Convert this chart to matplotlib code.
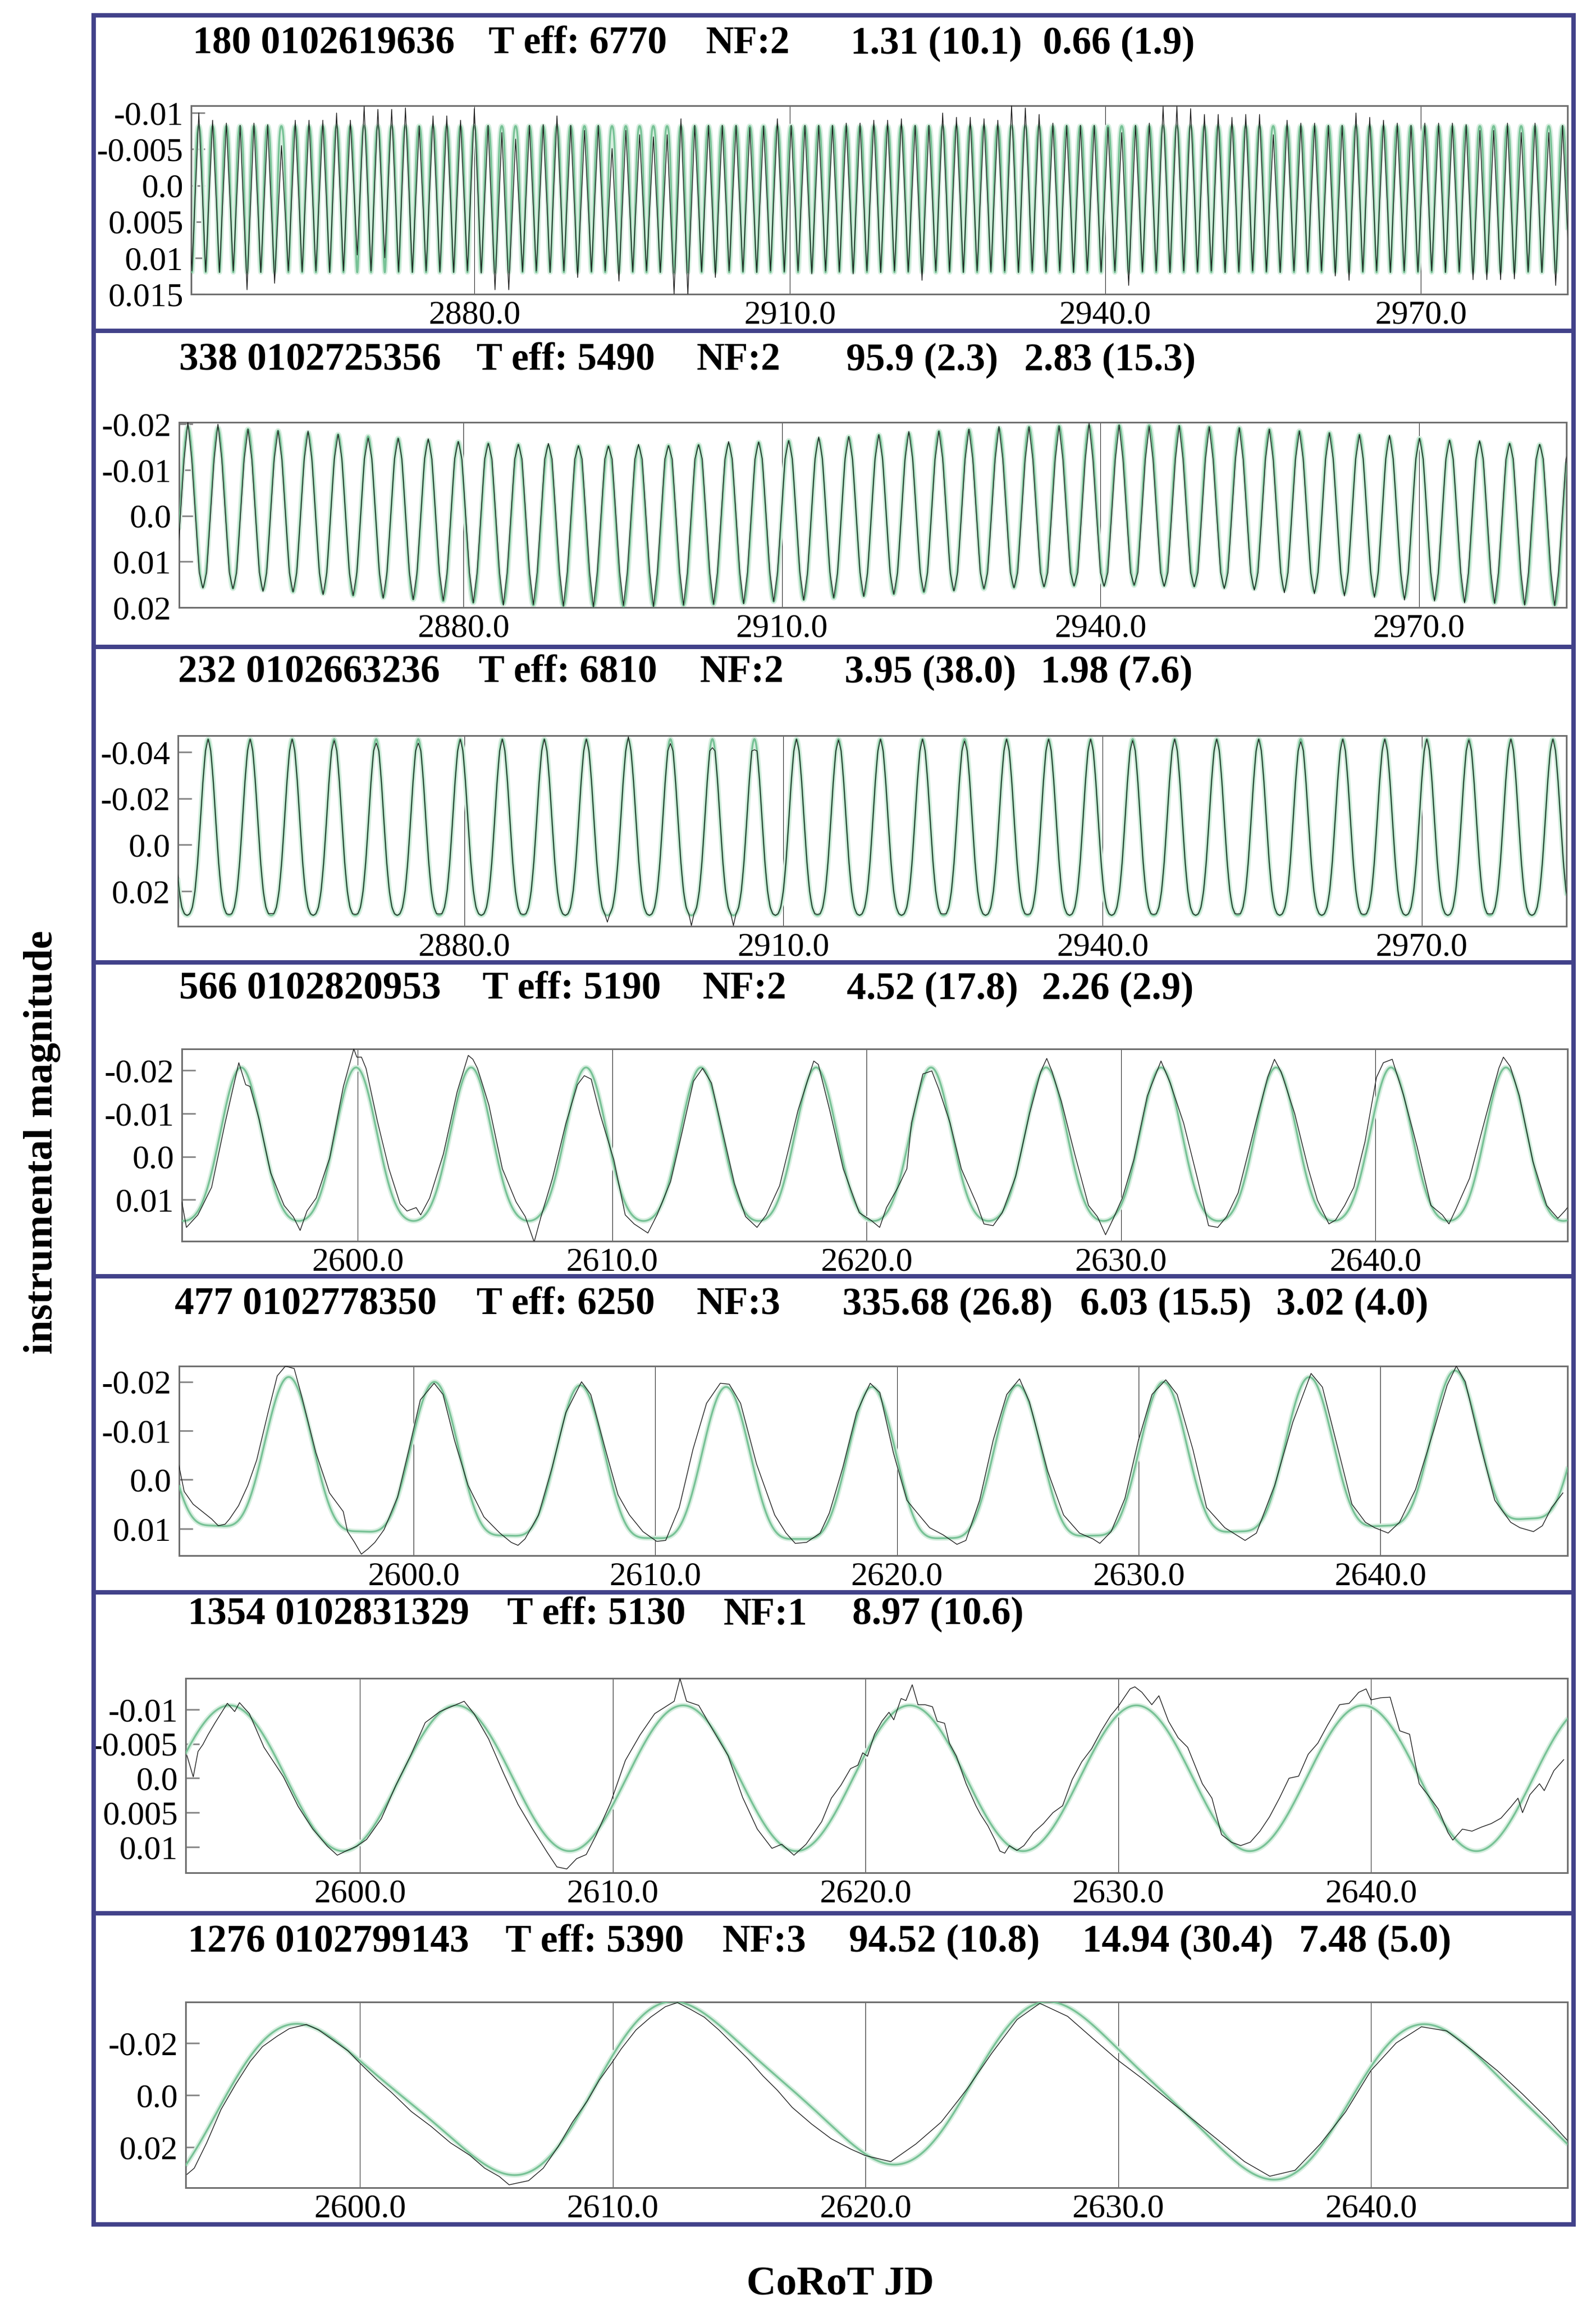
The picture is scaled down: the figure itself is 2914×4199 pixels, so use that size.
import numpy as np
import matplotlib.pyplot as plt

plt.rcParams['font.family'] = ['Liberation Serif', 'DejaVu Serif']

W, H = 2914, 4199

# ---------------- data ----------------
# panel headers
head_1 = ["180 0102619636", "T eff: 6770", "NF:2", "1.31 (10.1)", "0.66 (1.9)"]
head_2 = ["338 0102725356", "T eff: 5490", "NF:2", "95.9 (2.3)", "2.83 (15.3)"]
head_3 = ["232 0102663236", "T eff: 6810", "NF:2", "3.95 (38.0)", "1.98 (7.6)"]
head_4 = ["566 0102820953", "T eff: 5190", "NF:2", "4.52 (17.8)", "2.26 (2.9)"]
head_5 = ["477 0102778350", "T eff: 6250", "NF:3", "335.68 (26.8)", "6.03 (15.5)", "3.02 (4.0)"]
head_6 = ["1354 0102831329", "T eff: 5130", "NF:1", "8.97 (10.6)"]
head_7 = ["1276 0102799143", "T eff: 5390", "NF:3", "94.52 (10.8)", "14.94 (30.4)", "7.48 (5.0)"]

# multi-sine fit: period (d), semi-amplitude (mmag), epoch of max light, zero point (mmag)
per_1, amp_1, ep_1, zp_1 = [1.31, 0.655], [10.1, 1.9], [2880.0, 2880.33], 0.0
per_2, amp_2, ep_2, zp_2 = [95.9, 2.83], [2.3, 17.5], [2941.95, 2879.5], 0.0
per_3, amp_3, ep_3, zp_3 = [3.95, 1.975], [38.0, 7.6], [2879.63, 2879.63], 0.0
per_4, amp_4, ep_4, zp_4 = [4.52, 2.26], [17.8, 2.9], [2599.93, 2599.93], 0.0
per_5, amp_5, ep_5, zp_5 = [335.68, 6.03, 3.015], [26.8, 15.5, 4.0], [2448.16, 2612.93, 2612.93], -26.2
per_6, amp_6, ep_6, zp_6 = [8.97], [10.6], [2621.75], 0.0
per_7, amp_7, ep_7, zp_7 = [94.52, 14.94, 7.47], [10.8, 30.4, 5.0], [2619.7, 2613.0, 2611.13], 5.5

# observed light curves, panels 1-3: magnitude (mmag) at each maximum / minimum,
# counted from cycle n0 of the main period, plus the mean shape between them
n0_1 = -21
max_1 = [-8.3,
         -10.0, -9.0, -8.6, -8.3, -8.6, -8.4, -5.5, -9.0, -9.0, -9.0, -10.0, -9.0, -10.9,
         -10.5, -10.5, -10.7, -8.2, -9.6, -9.6, -9.0, -10.6,
         -8.3, -7.3, -6.4, -8.3, -8.4, -9.6, -8.3, -7.6, -8.3, -5.1, -7.6, -7.0, -6.7,
         -7.0, -9.2, -8.3, -8.3, -8.3, -8.3, -8.0, -8.2, -9.2, -8.3,
         -8.3, -8.3, -8.3, -8.6, -8.6, -9.0, -9.0, -9.2, -8.3, -8.3, -10.0, -9.4, -9.4,
         -9.2, -9.0, -11.0, -10.7, -9.8, -8.6, -8.3, -8.3, -8.3, -8.0, -7.3, -8.3, -8.6,
         -10.9, -10.9, -10.6, -9.8, -9.8, -9.4, -9.8, -9.8, -7.0, -9.0, -8.6, -8.6, -8.3,
         -8.3, -10.0, -9.4, -9.0, -8.6, -8.3, -8.6, -8.6, -8.6, -8.4, -7.6, -7.6, -8.6,
         -7.3, -8.6, -7.3, -8.3]
min_1 = [11.8, 11.9, 12.0, 11.8, 14.4, 12.0, 13.5, 11.8, 11.9, 11.8, 12.0, 11.8, 9.6,
         11.8, 10.0, 11.9, 12.0, 11.8, 11.9, 12.0, 11.8, 12.1, 14.4, 14.4, 11.9, 11.8,
         12.0, 11.8, 12.7, 11.9, 11.8, 13.2, 11.9, 11.8, 12.0, 15.0, 15.1, 11.9, 12.7,
         11.8, 11.9, 12.0, 11.8, 11.9, 11.8, 12.2, 11.8, 11.9, 12.2, 11.8, 12.0, 11.8,
         11.9, 13.1, 11.8, 11.9, 12.0, 11.8, 11.9, 11.8, 12.0, 11.8, 11.9, 11.8, 12.0,
         11.8, 11.9, 11.8, 13.8, 11.9, 11.8, 12.0, 11.8, 11.9, 11.8, 12.0, 11.9, 11.8,
         11.9, 12.0, 11.8, 11.9, 11.8, 12.5, 13.1, 11.9, 11.8, 12.0, 11.8, 11.9, 11.8,
         12.0, 11.9, 13.0, 13.0, 13.0, 12.9, 11.9, 12.0, 13.8, 11.9]
shape_1 = []

n0_2 = -10
max_2 = [-19.7, -20.5, -20.0, -18.9, -18.6, -18.5, -17.8, -17.0, -16.9, -16.8, -16.2, -15.8,
         -15.6, -15.8, -15.3, -15.2, -15.6, -15.3, -15.5, -16.2, -16.1, -16.4, -17.2, -17.3,
         -17.7, -18.4, -18.5, -18.9, -19.5, -19.4, -19.6, -20.2, -19.8, -19.5, -19.7, -19.4,
         -19.2, -18.9, -18.5, -18.1, -17.7, -17.6, -16.9, -16.5, -16.4, -15.8, -15.6, -15.4]
min_2 = [15.4, 15.8, 15.9, 16.5, 16.6, 17.2, 17.4, 18.0, 18.3, 18.5, 19.0, 19.5,
         19.4, 19.7, 19.9, 19.6, 19.8, 19.5, 19.3, 19.2, 18.7, 18.4, 17.9, 17.6,
         17.1, 16.6, 16.4, 15.9, 15.7, 15.5, 15.3, 15.4, 15.1, 15.4, 15.5, 15.9,
         16.2, 16.8, 17.0, 17.5, 17.8, 18.4, 18.6, 19.0, 19.1, 19.5, 19.6, 19.7]
shape_2 = [-12.4, 0.0, 12.4, 12.4, 0.0, -12.4]

n0_3 = -7
max_3 = [-45.6, -45.6, -45.6, -45.6, -45.0, -43.9, -43.9, -45.5, -45.6, -45.6, -45.6, -46.6,
         -43.7, -41.9, -41.0, -45.6, -45.2, -45.6, -45.6, -44.8, -45.6, -45.6, -45.6, -45.0,
         -45.6, -45.6, -45.6, -44.5, -45.6, -45.6, -45.6, -45.2, -45.6, -45.6]
min_3 = [30.4, 30.0, 29.6, 30.4, 30.0, 30.4, 29.8, 30.4, 30.0, 30.4, 33.3, 30.4, 34.8, 34.8,
         30.4, 30.0, 30.4, 30.4, 29.8, 30.4, 30.0, 30.4, 30.4, 30.0, 30.4, 29.8, 30.4, 30.4,
         30.0, 30.4, 30.4, 29.8, 30.4, 30.4]
shape_3 = [-40.5, -26.9, -9.2, 7.6, 19.9, 26.9, 29.7, 29.7, 26.9, 19.9, 7.6, -9.2, -26.9, -40.5]

# observed light curves, panels 4-7: CoRoT JD and magnitude (mmag)
t_4 = [2593.08, 2593.26, 2593.71, 2594.25, 2594.78, 2595.32, 2595.59, 2595.76, 2596.12, 2596.57,
       2597.1, 2597.46, 2597.73, 2598.0, 2598.36, 2598.89, 2599.43, 2599.84, 2599.96, 2600.14,
       2600.32, 2600.77, 2601.22, 2601.66, 2601.93, 2602.29, 2602.47, 2602.82, 2603.36, 2603.9,
       2604.34, 2604.52, 2604.7, 2605.15, 2605.68, 2606.22, 2606.58, 2606.93, 2607.2, 2607.65,
       2608.18, 2608.63, 2608.9, 2609.17, 2609.52, 2610.06, 2610.51, 2610.86, 2611.4, 2611.76,
       2612.29, 2612.74, 2613.19, 2613.55, 2613.9, 2614.26, 2614.8, 2615.24, 2615.69, 2616.05,
       2616.58, 2617.3, 2617.92, 2618.1, 2618.55, 2619.08, 2619.71, 2620.16, 2620.51, 2620.78,
       2621.23, 2621.58, 2621.76, 2622.21, 2622.56, 2622.83, 2623.28, 2623.72, 2624.35, 2624.61,
       2624.97, 2625.33, 2625.86, 2626.4, 2626.84, 2627.08, 2627.29, 2627.65, 2628.18, 2628.72,
       2629.07, 2629.39, 2629.7, 2630.05, 2630.5, 2631.03, 2631.57, 2631.93, 2632.46, 2633.0,
       2633.44, 2633.8, 2634.15, 2634.6, 2635.31, 2635.76, 2636.03, 2636.29, 2636.83, 2637.36,
       2637.72, 2638.17, 2638.43, 2638.79, 2639.15, 2639.59, 2640.04, 2640.31, 2640.66, 2641.11,
       2641.64, 2642.18, 2642.63, 2642.89, 2643.16, 2643.7, 2644.32, 2644.85, 2645.03, 2645.3,
       2645.66, 2646.19, 2646.73, 2647.17, 2647.44, 2647.62]
m_4 = [10.5, 16.4, 13.5, 7.1, -7.8, -21.8, -16.7, -16.3, -8.6, 3.7,
       11.3, 13.9, 17.1, 12.6, 9.6, 0.3, -16.3, -25.0, -23.1, -23.1,
       -20.5, -8.2, 2.8, 10.9, 12.6, 11.8, 13.5, 9.6, -0.6, -15.0,
       -23.5, -22.6, -20.5, -12.0, 2.8, 10.5, 13.9, 19.8, 13.9, 5.0,
       -7.8, -16.7, -18.8, -18.0, -9.9, 0.7, 13.5, 15.6, 17.7, 13.5,
       5.8, -5.6, -17.5, -20.5, -17.1, -7.8, 6.2, 13.9, 16.4, 13.5,
       6.7, -10.7, -22.2, -21.4, -10.7, 2.8, 13.0, 14.7, 16.4, 11.8,
       7.1, 2.8, -7.8, -19.2, -19.9, -15.8, -7.8, 2.8, 11.3, 15.6,
       16.0, 13.0, 4.5, -9.9, -19.7, -22.8, -19.7, -12.9, -0.6, 11.3,
       13.9, 18.1, 14.3, 9.6, 0.7, -14.1, -22.2, -17.1, -7.8, 5.0,
       16.0, 16.4, 13.9, 8.4, -8.2, -18.4, -22.6, -19.7, -9.9, 2.8,
       10.1, 15.6, 14.7, 11.3, 7.1, -3.5, -18.4, -21.8, -22.6, -14.1,
       -2.3, 11.3, 13.5, 15.6, 12.2, 5.0, -9.0, -20.5, -23.1, -20.9,
       -14.1, 1.1, 11.3, 14.3, 12.6, 11.3]

t_5 = [2590.28, 2590.51, 2590.88, 2591.26, 2591.64, 2591.92, 2592.2, 2592.39, 2592.76, 2593.14,
       2593.51, 2593.98, 2594.36, 2594.7, 2595.06, 2595.39, 2595.96, 2596.52, 2597.09, 2597.27,
       2597.56, 2597.84, 2598.12, 2598.4, 2598.78, 2599.34, 2599.81, 2600.28, 2600.85, 2601.22,
       2601.69, 2602.26, 2602.91, 2603.57, 2604.04, 2604.32, 2604.61, 2605.17, 2605.73, 2606.3,
       2606.95, 2607.33, 2607.89, 2608.46, 2608.93, 2609.49, 2610.06, 2610.43, 2610.99, 2611.56,
       2612.12, 2612.69, 2613.06, 2613.53, 2614.19, 2614.94, 2615.41, 2615.79, 2616.26, 2616.82,
       2617.2, 2617.76, 2618.33, 2618.89, 2619.29, 2619.85, 2620.41, 2620.79, 2621.35, 2621.92,
       2622.48, 2622.85, 2623.42, 2623.98, 2624.54, 2625.07, 2625.48, 2626.23, 2626.89, 2627.55,
       2628.11, 2628.39, 2628.86, 2629.43, 2629.99, 2630.55, 2631.12, 2631.59, 2632.24, 2632.81,
       2633.56, 2634.4, 2634.87, 2635.62, 2636.38, 2637.13, 2637.6, 2638.25, 2638.82, 2639.38,
       2639.76, 2640.32, 2640.79, 2641.45, 2642.2, 2642.76, 2643.14, 2643.51, 2644.08, 2644.73,
       2645.39, 2645.77, 2646.33, 2646.7, 2647.08, 2647.55]
m_5 = [-3.2, 2.4, 5.0, 6.5, 8.0, 9.4, 9.1, 8.0, 5.3, 1.2,
       -4.0, -13.7, -21.2, -23.2, -22.7, -16.7, -5.5, 2.7, 6.5, 10.6,
       12.8, 15.2, 14.1, 12.8, 10.2, 3.5, -6.2, -16.3, -19.7, -17.4,
       -8.1, 1.2, 7.6, 10.9, 12.8, 13.4, 12.1, 7.2, -2.5, -13.7,
       -20.0, -17.4, -7.0, 3.1, 7.2, 10.6, 12.6, 12.4, 5.7, -6.2,
       -15.6, -19.7, -19.5, -15.6, -3.2, 7.2, 10.9, 13.0, 12.8, 10.9,
       6.8, -2.5, -13.7, -19.7, -17.8, -5.5, 4.2, 6.5, 9.8, 11.3,
       13.2, 12.4, 4.2, -8.1, -17.4, -20.6, -15.9, -1.8, 7.2, 10.9,
       12.1, 13.0, 10.6, 3.8, -8.1, -17.4, -20.4, -17.4, -6.2, 5.7,
       9.8, 12.4, 10.9, 1.2, -11.8, -21.7, -18.9, -6.2, 5.0, 8.7,
       9.8, 10.9, 8.7, 2.0, -10.0, -19.3, -23.2, -20.0, -8.1, 4.2,
       8.7, 9.8, 10.6, 9.4, 5.7, 2.7]

t_6 = [2593.15, 2593.4, 2593.59, 2593.78, 2593.98, 2594.27, 2594.75, 2595.04, 2595.23, 2595.62,
       2596.2, 2596.97, 2597.55, 2598.13, 2598.71, 2599.1, 2599.49, 2599.87, 2600.26, 2600.84,
       2601.42, 2602.0, 2602.58, 2603.16, 2603.54, 2604.12, 2604.51, 2605.09, 2605.67, 2606.25,
       2606.83, 2607.41, 2607.79, 2608.18, 2608.57, 2608.95, 2609.34, 2609.92, 2610.5, 2611.08,
       2611.66, 2612.43, 2612.66, 2612.92, 2613.4, 2613.98, 2614.56, 2615.14, 2615.72, 2616.3,
       2616.69, 2617.17, 2617.65, 2618.27, 2618.65, 2619.03, 2619.41, 2619.7, 2619.89, 2620.08,
       2620.36, 2620.65, 2620.93, 2621.12, 2621.41, 2621.6, 2621.85, 2622.08, 2622.36, 2622.65,
       2622.84, 2623.13, 2623.32, 2623.6, 2623.98, 2624.37, 2624.56, 2624.84, 2625.13, 2625.32,
       2625.51, 2625.7, 2625.99, 2626.27, 2626.65, 2627.04, 2627.42, 2627.8, 2628.18, 2628.56,
       2628.95, 2629.33, 2629.7, 2629.99, 2630.47, 2630.66, 2630.94, 2631.33, 2631.61, 2631.99,
       2632.37, 2632.75, 2633.33, 2633.71, 2634.09, 2634.47, 2634.85, 2635.23, 2635.61, 2635.99,
       2636.38, 2636.76, 2637.14, 2637.52, 2637.9, 2638.28, 2638.76, 2639.14, 2639.52, 2639.81,
       2640.0, 2640.38, 2640.76, 2641.14, 2641.53, 2641.91, 2642.29, 2642.67, 2643.05, 2643.24,
       2643.62, 2644.0, 2644.38, 2644.76, 2645.15, 2645.53, 2645.82, 2646.0, 2646.29, 2646.67,
       2646.86, 2647.24, 2647.63]
m_6 = [-3.3, -0.2, -3.9, -4.9, -6.3, -8.1, -10.9, -9.7, -11.0, -9.4,
       -4.5, -0.2, 4.1, 7.4, 9.9, 11.2, 10.5, 9.9, 8.9, 5.9,
       1.0, -3.3, -8.1, -9.7, -10.3, -11.2, -9.4, -5.7, -0.8, 3.8,
       7.4, 10.8, 12.9, 13.2, 11.7, 11.1, 8.3, 3.5, -2.6, -6.3,
       -9.4, -11.2, -14.5, -11.2, -10.6, -6.9, -3.3, 2.8, 7.4, 10.2,
       9.6, 11.2, 9.6, 6.3, 2.9, 1.0, -1.4, -1.9, -3.7, -3.2,
       -6.4, -8.3, -9.6, -8.5, -11.6, -11.3, -13.6, -10.7, -10.7, -10.4,
       -8.3, -8.0, -5.1, -3.2, 0.8, 4.0, 5.3, 6.9, 9.0, 10.6,
       10.9, 9.8, 10.5, 9.8, 7.9, 6.6, 5.0, 4.0, 0.2, -2.4,
       -4.3, -6.9, -9.1, -10.4, -13.0, -13.3, -12.5, -10.7, -12.0, -8.3,
       -5.9, -4.5, 0.8, 2.9, 8.2, 9.3, 9.8, 9.3, 7.7, 5.6,
       2.9, 0.0, -0.3, -3.5, -5.1, -7.7, -10.7, -10.9, -12.5, -13.0,
       -11.4, -11.7, -11.8, -6.9, -6.4, 0.8, 2.6, 4.5, 7.9, 9.0,
       7.4, 7.7, 7.1, 6.6, 5.8, 4.2, 2.9, 5.0, 2.4, 0.8,
       1.8, -1.1, -2.7]

t_7 = [2593.15, 2593.44, 2593.93, 2594.5, 2595.08, 2595.66, 2596.14, 2596.72, 2597.2, 2597.88,
       2598.36, 2598.94, 2599.52, 2600.0, 2600.68, 2601.26, 2602.03, 2602.8, 2603.58, 2604.35,
       2604.93, 2605.51, 2605.9, 2606.28, 2606.67, 2607.25, 2607.83, 2608.41, 2608.99, 2609.47,
       2609.95, 2610.34, 2610.92, 2611.5, 2612.08, 2612.56, 2613.04, 2613.62, 2614.2, 2614.78,
       2615.36, 2615.94, 2616.52, 2617.1, 2617.87, 2618.64, 2619.42, 2620.0, 2621.0, 2622.0,
       2623.0, 2624.0, 2625.0, 2626.0, 2626.9, 2628.0, 2629.0, 2630.0, 2631.0, 2632.0,
       2633.0, 2634.0, 2635.0, 2636.0, 2637.0, 2638.0, 2639.0, 2640.0, 2641.0, 2642.0,
       2643.0, 2644.0, 2645.0, 2646.0, 2647.0, 2647.8]
m_7 = [30.4, 28.0, 18.3, 5.5, -4.2, -13.0, -18.6, -22.6, -25.5, -27.1,
       -25.0, -21.0, -17.0, -12.2, -5.8, -0.9, 6.3, 11.9, 18.3, 23.1,
       28.0, 31.2, 34.4, 33.6, 32.8, 28.0, 19.9, 10.3, 2.3, -5.8,
       -12.2, -17.8, -25.0, -29.9, -33.9, -35.5, -33.1, -29.9, -25.0, -19.4,
       -13.8, -7.4, -1.8, 4.7, 11.1, 16.7, 20.7, 23.2, 25.5, 18.7,
       10.3, -2.1, -16.1, -29.0, -35.2, -30.2, -21.7, -13.3, -6.0, 1.9,
       9.7, 17.6, 25.5, 31.1, 28.8, 18.7, 6.4, -9.4, -20.0, -26.2,
       -24.6, -17.3, -9.4, -0.4, 9.2, 17.6]

xlabel = "CoRoT JD"
ylabel = "instrumental magnitude"


# ---------------- helpers ----------------
def fit_curve(t, periods, amps, epochs, zp):
    m = np.full_like(t, zp)
    for p, a, e in zip(periods, amps, epochs):
        m -= a * np.cos(2 * np.pi * (t - e) / p)
    return m / 1000.0


def cycle_path(p, e, n0, maxima, minima, shape):
    # one cycle: maximum, rising half of the shape, minimum, falling half
    k = len(shape) + 2
    half = k // 2
    ph = np.arange(k) / k
    ts, ms = [], []
    for i, (mx, mn) in enumerate(zip(maxima, minima)):
        ts.extend(e + (n0 + i + ph) * p)
        ms.extend([mx] + shape[:half - 1] + [mn] + shape[half - 1:])
    return np.array(ts), np.array(ms) / 1000.0


obs_1 = cycle_path(per_1[0], ep_1[0], n0_1, max_1, min_1, shape_1)
obs_2 = cycle_path(per_2[1], ep_2[1], n0_2, max_2, min_2, shape_2)
obs_3 = cycle_path(per_3[0], ep_3[0], n0_3, max_3, min_3, shape_3)
obs_4 = (np.array(t_4), np.array(m_4) / 1000.0)
obs_5 = (np.array(t_5), np.array(m_5) / 1000.0)
obs_6 = (np.array(t_6), np.array(m_6) / 1000.0)
obs_7 = (np.array(t_7), np.array(m_7) / 1000.0)

xt_a = [2880.0, 2910.0, 2940.0, 2970.0]
xt_b = [2600.0, 2610.0, 2620.0, 2630.0, 2640.0]

# ---------------- layout (pixels of the 2914 x 4199 canvas) ----------------
panels = [
    dict(head=head_1, hx=[352, 892, 1289, 1553, 1904], hy=98,
         box=(349, 193, 2862, 537), xlim=(2853.07, 2983.96), ylim=(0.015, -0.011),
         xt=xt_a, yt=[-0.01, -0.005, 0.0, 0.005, 0.01, 0.015],
         fit=(per_1, amp_1, ep_1, zp_1), obs=obs_1),
    dict(head=head_2, hx=[327, 870, 1272, 1545, 1870], hy=676,
         box=(327, 771, 2860, 1109), xlim=(2853.2, 2983.9), ylim=(0.0197, -0.0204),
         xt=xt_a, yt=[-0.02, -0.01, 0.0, 0.01, 0.02],
         fit=(per_2, amp_2, ep_2, zp_2), obs=obs_2),
    dict(head=head_3, hx=[325, 874, 1278, 1542, 1900], hy=1246,
         box=(325, 1343, 2860, 1691), xlim=(2853.1, 2983.6), ylim=(0.0351, -0.0471),
         xt=xt_a, yt=[-0.04, -0.02, 0.0, 0.02],
         fit=(per_3, amp_3, ep_3, zp_3), obs=obs_3),
    dict(head=head_4, hx=[327, 881, 1283, 1546, 1902], hy=1824,
         box=(332, 1915, 2862, 2266), xlim=(2593.08, 2647.55), ylim=(0.0196, -0.025),
         xt=xt_b, yt=[-0.02, -0.01, 0.0, 0.01],
         fit=(per_4, amp_4, ep_4, zp_4), obs=obs_4),
    dict(head=head_5, hx=[319, 870, 1272, 1538, 1972, 2330], hy=2400,
         box=(327, 2494, 2862, 2840), xlim=(2590.3, 2647.74), ylim=(0.0155, -0.0232),
         xt=xt_b, yt=[-0.02, -0.01, 0.0, 0.01],
         fit=(per_5, amp_5, ep_5, zp_5), obs=obs_5),
    dict(head=head_6, hx=[343, 926, 1321, 1556], hy=2965,
         box=(339, 3064, 2862, 3419), xlim=(2593.1, 2647.78), ylim=(0.01375, -0.01454),
         xt=xt_b, yt=[-0.01, -0.005, 0.0, 0.005, 0.01],
         fit=(per_6, amp_6, ep_6, zp_6), obs=obs_6),
    dict(head=head_7, hx=[343, 923, 1319, 1550, 1976, 2372], hy=3563,
         box=(339, 3655, 2862, 3994), xlim=(2593.1, 2647.78), ylim=(0.0355, -0.0357),
         xt=xt_b, yt=[-0.02, 0.0, 0.02],
         fit=(per_7, amp_7, ep_7, zp_7), obs=obs_7),
]

frame_x0, frame_x1 = 171, 2873
frame_ys = [28, 604, 1181, 1757, 2330, 2907, 3493, 4061]
frame_col = '#42428a'


def ylab(v):
    if v == 0:
        return "0.0"
    return ("%.3f" % v).rstrip('0')


fig = plt.figure(figsize=(W / 100, H / 100), dpi=100)

for p in panels:
    x0, y0, x1, y1 = p['box']
    ax = fig.add_axes([x0 / W, 1 - y1 / H, (x1 - x0) / W, (y1 - y0) / H])
    t = np.linspace(p['xlim'][0], p['xlim'][1], 6000)
    m = fit_curve(t, *p['fit'])
    ax.plot(t, m, color='#d6eedf', lw=6.5, zorder=2, solid_capstyle='round')
    ax.plot(t, m, color='#78c296', lw=2.4, zorder=3)
    ax.plot(p['obs'][0], p['obs'][1], color='#1c1c1c', lw=1.0, zorder=4)
    ax.set_xlim(*p['xlim'])
    ax.set_ylim(*p['ylim'])
    ax.set_xticks(p['xt'])
    ax.set_xticklabels(["%.1f" % v for v in p['xt']])
    ax.set_yticks(p['yt'])
    ax.set_yticklabels([ylab(v) for v in p['yt']])
    ax.grid(axis='x', color='#2a2a2a', lw=0.8, zorder=1)
    ax.tick_params(axis='x', length=0, pad=8, labelsize=44)
    ax.tick_params(axis='y', direction='in', length=18, width=2.2, color='#8c8c8c',
                   pad=10, labelsize=44)
    for s in ax.spines.values():
        s.set_color('#6f6f6f')
        s.set_linewidth(2.2)

ov = fig.add_axes([0, 0, 1, 1])
ov.set_xlim(0, W)
ov.set_ylim(H, 0)
ov.axis('off')

for x in (frame_x0, frame_x1):
    ov.plot([x, x], [frame_ys[0], frame_ys[-1]], color=frame_col, lw=5.8,
            solid_capstyle='projecting')
for y in frame_ys:
    ov.plot([frame_x0, frame_x1], [y, y], color=frame_col, lw=5.8, solid_capstyle='projecting')

for p in panels:
    for s, x in zip(p['head'], p['hx']):
        ov.text(x, p['hy'], s, fontsize=51, fontweight='bold', ha='left', va='baseline')

ov.text(77, 2085, ylabel, rotation=90, fontsize=54, fontweight='bold', ha='center', va='center')
ov.text(1534, 4190, xlabel, fontsize=54, fontweight='bold', ha='center', va='baseline')

fig.savefig('out.png', dpi=100)
